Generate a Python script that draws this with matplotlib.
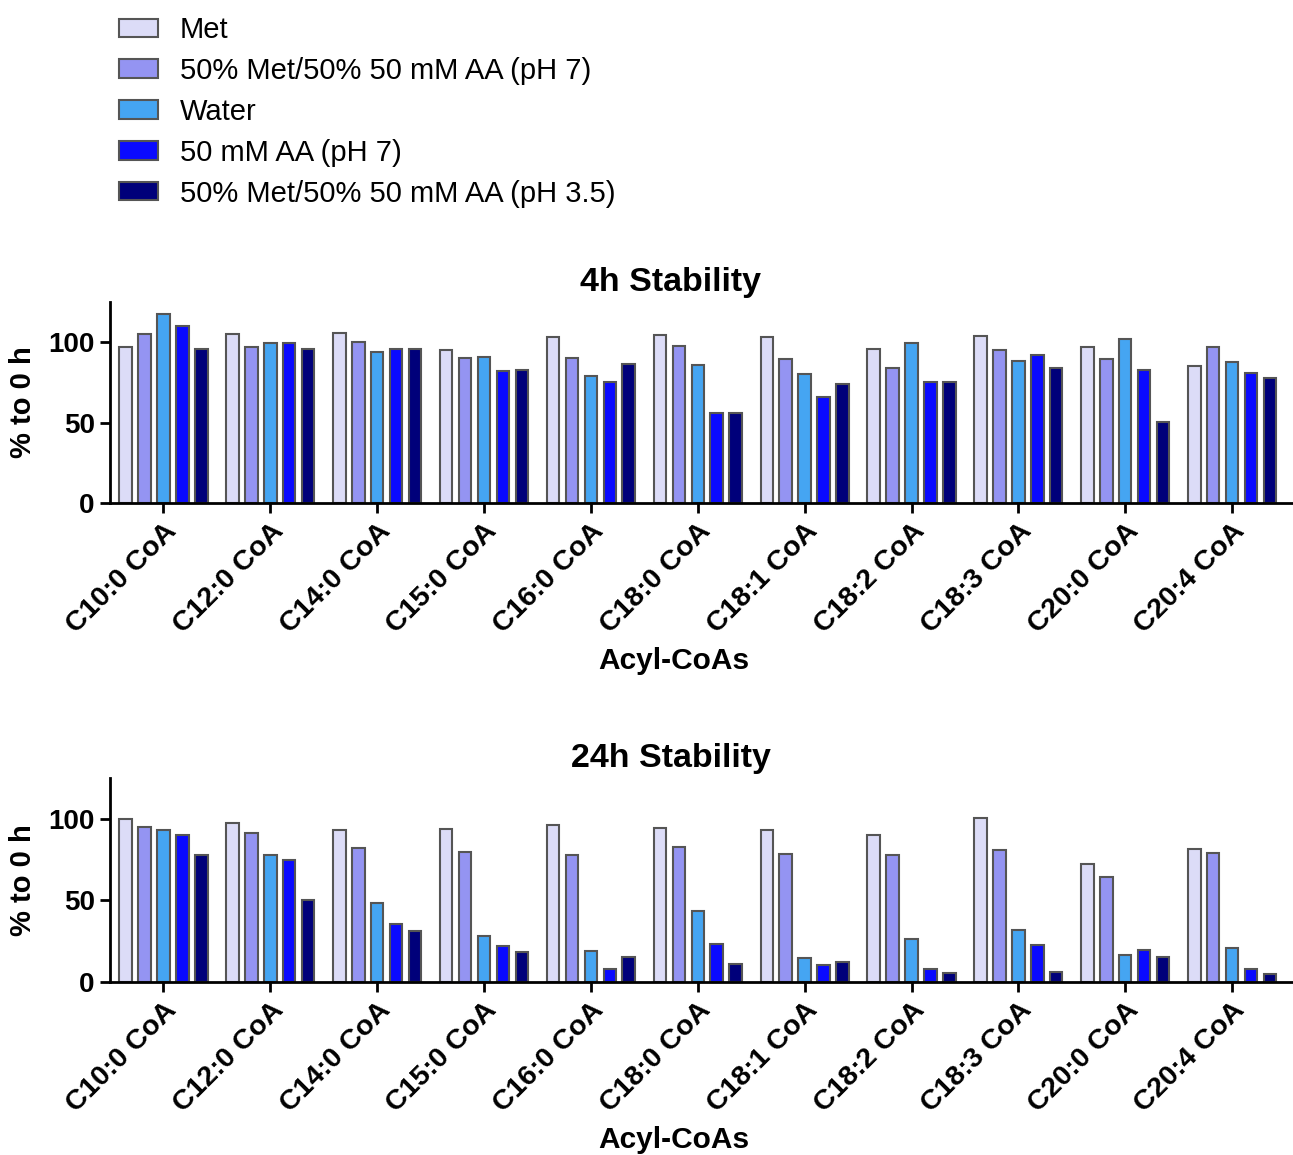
import numpy as np
import matplotlib.pyplot as plt
from matplotlib.patches import Patch

plt.rcParams['font.family'] = ['Liberation Sans', 'DejaVu Sans']

# Datos
categorias = ['C10:0 CoA', 'C12:0 CoA', 'C14:0 CoA', 'C15:0 CoA', 'C16:0 CoA',
              'C18:0 CoA', 'C18:1 CoA', 'C18:2 CoA', 'C18:3 CoA', 'C20:0 CoA', 'C20:4 CoA']
series = ['Met', '50% Met/50% 50 mM AA (pH 7)', 'Water', '50 mM AA (pH 7)',
          '50% Met/50% 50 mM AA (pH 3.5)']
colores = ['#dcdcf7', '#9494f2', '#45a5f2', '#0a0aff', '#00007a']

met_4h = [97, 105, 106, 95, 103, 104.5, 103.5, 96, 104, 97, 85]
met_aa7_4h = [105, 97, 100, 90, 90, 97.5, 89.5, 84, 95, 89.5, 97]
agua_4h = [117.5, 99.5, 94, 91, 79, 86, 80, 99.5, 88.5, 102, 87.5]
aa7_4h = [110, 99.5, 96, 82, 75, 56, 66, 75, 92, 83, 81]
met_aa35_4h = [96, 96, 96, 83, 86.5, 56, 74, 75, 84, 50.5, 77.5]

met_24h = [99.5, 97.5, 93, 93.5, 96, 94, 93, 90, 100.5, 72, 81.5]
met_aa7_24h = [95, 91, 82, 79.5, 77.5, 82.5, 78.5, 77.5, 81, 64.5, 79]
agua_24h = [93, 78, 48.5, 28, 19, 43.5, 14.5, 26, 32, 16.5, 20.5]
aa7_24h = [90, 74.5, 35.5, 22, 8, 23, 10, 8, 22.5, 19.5, 8]
met_aa35_24h = [78, 50, 31, 18.5, 15, 11, 12, 5.5, 6, 15, 4.5]

datos_4h = [met_4h, met_aa7_4h, agua_4h, aa7_4h, met_aa35_4h]
datos_24h = [met_24h, met_aa7_24h, agua_24h, aa7_24h, met_aa35_24h]

fig = plt.figure(figsize=(12.93, 11.55), dpi=100)
ax1 = fig.add_axes([0.0851, 0.5645, 0.9149, 0.174])
ax2 = fig.add_axes([0.0851, 0.150, 0.9149, 0.1765])

x = np.arange(len(categorias))
paso = 0.177
ancho = 0.117

for ax, datos, titulo in [(ax1, datos_4h, '4h Stability'), (ax2, datos_24h, '24h Stability')]:
    for i, (vals, col) in enumerate(zip(datos, colores)):
        ax.bar(x + (i - 2) * paso, vals, width=ancho, color=col,
               edgecolor='#555555', linewidth=1.5)
    ax.set_xlim(-0.5, 10.57)
    ax.set_ylim(0, 125)
    ax.set_yticks([0, 50, 100])
    ax.set_xticks(x)
    ax.set_xticklabels(categorias, rotation=45, ha='right', rotation_mode='anchor',
                       fontsize=20.5, fontweight='bold')
    for lab in ax.get_yticklabels():
        lab.set_fontsize(20)
        lab.set_fontweight('bold')
    ax.tick_params(axis='both', width=2, length=7, direction='out', pad=4)
    ax.spines['top'].set_visible(False)
    ax.spines['right'].set_visible(False)
    ax.spines['left'].set_linewidth(2)
    ax.spines['bottom'].set_linewidth(2)
    ax.set_ylabel('% to 0 h', fontsize=21, fontweight='bold', labelpad=8)
    ax.set_xlabel('Acyl-CoAs', fontsize=21.5, fontweight='bold', x=0.477, labelpad=6)
    ax.set_title(titulo, fontsize=24.5, fontweight='bold', x=0.474, pad=8)

handles = [Patch(facecolor=c, edgecolor='#555555', linewidth=1.5) for c in colores]
fig.legend(handles, series, loc='upper left', bbox_to_anchor=(0.092, 0.986),
           frameon=False, fontsize=21, handlelength=1.34, handleheight=0.6,
           labelspacing=0.44, handletextpad=0.75, borderpad=0, borderaxespad=0)

fig.savefig('out.png', dpi=100)
